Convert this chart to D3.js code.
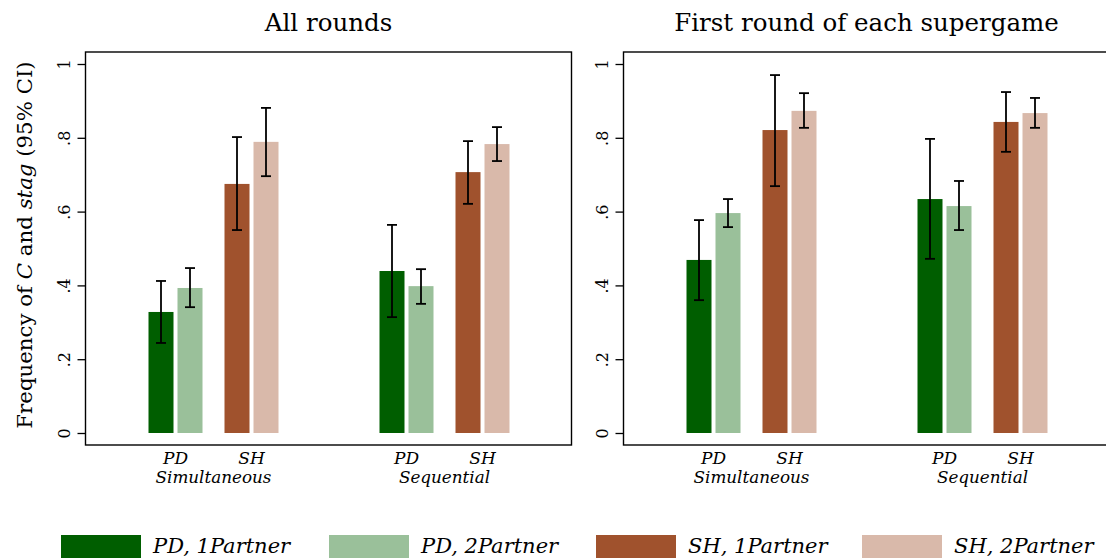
<!DOCTYPE html>
<html><head><meta charset="utf-8">
<script src="https://cdn.jsdelivr.net/npm/d3@7"></script>
<style>
body{margin:0;background:#fff;}
text{font-family:"DejaVu Serif",serif;fill:#000;}
</style></head>
<body><svg id="chart" width="1106" height="559"></svg>
<script>
const panelTitles = ["All rounds", "First round of each supergame"];
const treatments = ["Simultaneous", "Sequential"];
const games = ["PD", "SH"];
const partners = ["1Partner", "2Partner"];
const seriesNames = ["PD, 1Partner", "PD, 2Partner", "SH, 1Partner", "SH, 2Partner"];
const seriesColors = ["#005e00", "#9ac09a", "#a0522d", "#d9b9aa"];
const yTicks = [0, 0.2, 0.4, 0.6, 0.8, 1];
const yTickLabels = ["0", ".2", ".4", ".6", ".8", "1"];
// order: Sim PD1, Sim PD2, Sim SH1, Sim SH2, Seq PD1, Seq PD2, Seq SH1, Seq SH2
const allMean = [0.328, 0.393, 0.675, 0.789, 0.439, 0.398, 0.707, 0.783];
const allLow  = [0.244, 0.341, 0.550, 0.696, 0.314, 0.350, 0.621, 0.737];
const allHigh = [0.412, 0.447, 0.802, 0.881, 0.564, 0.444, 0.791, 0.829];
const firstMean = [0.469, 0.596, 0.821, 0.873, 0.634, 0.615, 0.843, 0.867];
const firstLow  = [0.360, 0.558, 0.669, 0.827, 0.472, 0.550, 0.762, 0.827];
const firstHigh = [0.577, 0.634, 0.970, 0.921, 0.797, 0.683, 0.924, 0.908];

const panelData = [
  {title: panelTitles[0], mean: allMean, low: allLow, high: allHigh},
  {title: panelTitles[1], mean: firstMean, low: firstLow, high: firstHigh}
];

const svg = d3.select("#chart");
const plotTop = 52, plotBottom = 445, plotW = 486;
const panelLefts = [85.5, 623.5];
const y = d3.scaleLinear().domain([0, 1]).range([433, 64]);

panelData.forEach((pd, pi) => {
  const L = panelLefts[pi];
  const g = svg.append("g");
  const xT = d3.scaleBand().domain(treatments).range([L + 12.5, L + 474.5]).padding(0);
  const xG = d3.scaleBand().domain(games).range([-65, 65]).paddingInner(22/76).paddingOuter(0);
  const xP = d3.scaleBand().domain(partners).range([0, xG.bandwidth()]).paddingInner(4/29).paddingOuter(0);

  const rows = [];
  treatments.forEach((t, ti) => games.forEach((gm, gi) => partners.forEach((p, pj) => {
    const k = ti*4 + gi*2 + pj;
    rows.push({t, gm, p, s: gi*2 + pj, v: pd.mean[k], lo: pd.low[k], hi: pd.high[k]});
  })));
  const bx = d => xT(d.t) + xT.bandwidth()/2 + xG(d.gm) + xP(d.p);

  g.selectAll("rect.bar").data(rows).join("rect")
    .attr("x", bx).attr("width", xP.bandwidth())
    .attr("y", d => y(d.v)).attr("height", d => y(0) - y(d.v))
    .attr("fill", d => seriesColors[d.s]);

  const cx = d => bx(d) + xP.bandwidth()/2;
  const eb = g.append("g").attr("stroke", "#000").attr("stroke-width", 1.8);
  eb.selectAll("line.v").data(rows).join("line")
    .attr("x1", cx).attr("x2", cx).attr("y1", d => y(d.lo)).attr("y2", d => y(d.hi));
  eb.selectAll("line.t").data(rows).join("line")
    .attr("x1", d => cx(d) - 5).attr("x2", d => cx(d) + 5).attr("y1", d => y(d.hi)).attr("y2", d => y(d.hi));
  eb.selectAll("line.b").data(rows).join("line")
    .attr("x1", d => cx(d) - 5).attr("x2", d => cx(d) + 5).attr("y1", d => y(d.lo)).attr("y2", d => y(d.lo));

  g.append("rect").attr("x", L).attr("y", plotTop).attr("width", plotW).attr("height", plotBottom - plotTop)
    .attr("fill", "none").attr("stroke", "#000").attr("stroke-width", 1.4);

  const yAxis = d3.axisLeft(y).tickValues(yTicks).tickFormat((d, i) => yTickLabels[i]).tickSize(8).tickPadding(0);
  const ya = g.append("g").attr("transform", `translate(${L},0)`).call(yAxis);
  ya.select(".domain").remove();
  ya.selectAll(".tick line").attr("stroke", "#000").attr("stroke-width", 1.3);
  ya.selectAll(".tick text")
    .attr("font-family", "DejaVu Serif").attr("font-size", 16).attr("fill", "#000")
    .attr("x", 0).attr("dy", 0)
    .attr("text-anchor", "middle")
    .attr("transform", "translate(-16,0) rotate(-90)");

  const xl = g.append("g");
  rows.filter(d => d.p === partners[0]).forEach(d => {
    xl.append("text").attr("x", xT(d.t) + xT.bandwidth()/2 + xG(d.gm) + xG.bandwidth()/2)
      .attr("y", 464).attr("text-anchor", "middle").attr("font-size", 17).attr("font-style", "italic").text(d.gm);
  });
  treatments.forEach(t => {
    xl.append("text").attr("x", xT(t) + xT.bandwidth()/2).attr("y", 483)
      .attr("text-anchor", "middle").attr("font-size", 16.8).attr("font-style", "italic").text(t);
  });

  g.append("text").attr("x", L + plotW/2).attr("y", 31).attr("text-anchor", "middle")
    .attr("font-size", 24.5).text(pd.title);
});

const yt = svg.append("text").attr("transform", "translate(32,245) rotate(-90)")
  .attr("text-anchor", "middle").attr("font-size", 21.3);
yt.append("tspan").text("Frequency of ");
yt.append("tspan").attr("font-style", "italic").text("C");
yt.append("tspan").text(" and ");
yt.append("tspan").attr("font-style", "italic").text("stag");
yt.append("tspan").text(" (95% CI)");

const legX = [61, 329, 596, 862];
const lg = svg.append("g");
seriesNames.forEach((s, i) => {
  lg.append("rect").attr("x", legX[i]).attr("y", 535).attr("width", 80).attr("height", 23).attr("fill", seriesColors[i]);
  lg.append("text").attr("x", legX[i] + 92).attr("y", 553).attr("font-size", 21).attr("font-style", "italic").text(s);
});
</script></body></html>
